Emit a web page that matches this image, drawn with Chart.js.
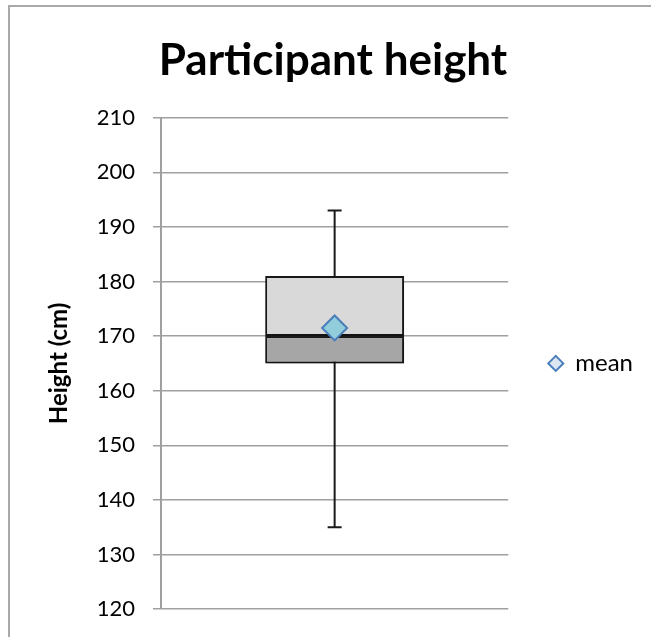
<!DOCTYPE html>
<html>
<head>
<meta charset="utf-8">
<script src="https://cdn.jsdelivr.net/npm/chart.js@4.4.0/dist/chart.umd.min.js"></script>
<style>
  html, body { margin: 0; padding: 0; background: #fff; }
  #wrap { position: relative; width: 651px; height: 637px; }
</style>
</head>
<body>
<div id="wrap"><canvas id="chart" width="651" height="637"></canvas></div>
<script>
// Box plot values (cm)
const categories = ['Participants'];
const minValues = [135];
const q1Values = [165];
const medianValues = [170];
const q3Values = [181];
const maxValues = [193];
const meanValues = [171.5];

const yMin = 120;
const yMax = 210;
const yStep = 10;

const FONT = 'Lato, "Open Sans", sans-serif';

// white background + grey outer frame
const framePlugin = {
    id: 'frame',
    beforeDraw(chart) {
        const ctx = chart.ctx;
        ctx.save();
        ctx.fillStyle = '#fff';
        ctx.fillRect(0, 0, chart.width, chart.height);
        ctx.strokeStyle = '#a9a9a9';
        ctx.lineWidth = 2;
        ctx.strokeRect(9, 6, chart.width + 20, chart.height + 20);
        ctx.restore();
    }
};

// whiskers drawn behind the box
const whiskerPlugin = {
    id: 'whiskers',
    beforeDatasetsDraw(chart) {
        const ctx = chart.ctx;
        const x = chart.scales.x;
        const y = chart.scales.y;
        ctx.save();
        ctx.strokeStyle = '#1a1a1a';
        ctx.lineWidth = 2;
        categories.forEach((c, i) => {
            const cx = x.getPixelForValue(i);
            const top = y.getPixelForValue(maxValues[i]);
            const bot = y.getPixelForValue(minValues[i]);
            ctx.beginPath();
            ctx.moveTo(cx, top);
            ctx.lineTo(cx, bot);
            ctx.moveTo(cx - 7, top);
            ctx.lineTo(cx + 7, top);
            ctx.moveTo(cx - 7, bot);
            ctx.lineTo(cx + 7, bot);
            ctx.stroke();
        });
        ctx.restore();
    }
};

// soft drop shadow under the box
const shadowPlugin = {
    id: 'boxShadow',
    beforeDatasetDraw(chart, args) {
        if (args.meta.type !== 'bar') return;
        const ctx = chart.ctx;
        ctx.save();
        ctx.shadowColor = 'rgba(0,0,0,0.35)';
        ctx.shadowBlur = 6;
        ctx.shadowOffsetX = 2;
        ctx.shadowOffsetY = 3;
    },
    afterDatasetDraw(chart, args) {
        if (args.meta.type !== 'bar') return;
        chart.ctx.restore();
    }
};

new Chart(document.getElementById('chart'), {
    data: {
        labels: categories,
        datasets: [
            {
                type: 'line',
                label: 'mean',
                data: meanValues,
                showLine: false,
                pointStyle: 'rectRot',
                pointRadius: 12.5,
                pointBackgroundColor: '#92cddc',
                pointBorderColor: '#4a7ebb',
                pointBorderWidth: 2,
                order: 0
            },
            {
                type: 'bar',
                label: 'upper',
                data: q3Values.map((v, i) => [medianValues[i], v]),
                backgroundColor: '#d9d9d9',
                borderColor: '#1a1a1a',
                borderWidth: 2,
                borderSkipped: false,
                grouped: false,
                categoryPercentage: 1,
                barPercentage: 0.4,
                order: 1
            },
            {
                type: 'bar',
                label: 'lower',
                data: q1Values.map((v, i) => [v, medianValues[i]]),
                backgroundColor: '#a6a6a6',
                borderColor: '#1a1a1a',
                borderWidth: 2,
                borderSkipped: false,
                grouped: false,
                categoryPercentage: 1,
                barPercentage: 0.4,
                order: 2
            }
        ]
    },
    options: {
        responsive: false,
        animation: false,
        layout: {
            padding: { left: 23, right: 8, top: 0, bottom: 28 }
        },
        plugins: {
            title: {
                display: true,
                text: 'Participant height',
                color: '#000',
                font: { family: FONT, size: 44, weight: 'bold' },
                padding: { top: 34, bottom: 31 }
            },
            legend: {
                position: 'right',
                fullSize: false,
                labels: {
                    usePointStyle: true,
                    boxWidth: 15,
                    boxHeight: 10.6,
                    color: '#000',
                    font: { family: FONT, size: 24 },
                    generateLabels() {
                        return [{
                            text: 'mean',
                            pointStyle: 'rectRot',
                            fillStyle: '#dce6f2',
                            strokeStyle: '#4a7ebb',
                            lineWidth: 2,
                            datasetIndex: 0,
                            fontColor: '#000'
                        }];
                    },
                    padding: 40
                }
            },
            tooltip: { enabled: false }
        },
        scales: {
            x: {
                display: false
            },
            y: {
                min: yMin,
                max: yMax,
                afterFit(scale) {
                    scale.width = 138;
                    scale.paddingBottom = 14;
                },
                ticks: {
                    stepSize: yStep,
                    color: '#000',
                    padding: 18,
                    font: { family: FONT, size: 22 }
                },
                grid: {
                    color: '#a0a0a0',
                    lineWidth: 1.5,
                    tickLength: 8
                },
                border: { color: '#a0a0a0', width: 2 },
                title: {
                    display: true,
                    text: 'Height (cm)',
                    color: '#000',
                    font: { family: FONT, size: 24, weight: 'bold' },
                    padding: { top: 22, bottom: 0 }
                }
            }
        }
    },
    plugins: [framePlugin, whiskerPlugin, shadowPlugin]
});
</script>
</body>
</html>
